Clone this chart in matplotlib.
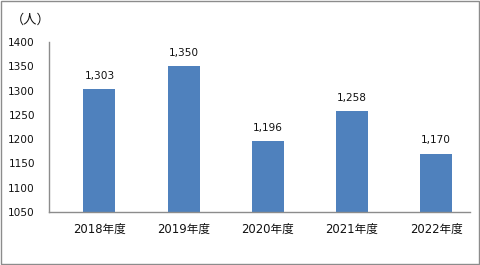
import matplotlib
matplotlib.use('Agg')
import matplotlib.pyplot as plt
from matplotlib.patches import Rectangle

plt.rcParams['font.family'] = ['DejaVu Sans', 'Noto Sans CJK JP']

# data
years = ['2018年度', '2019年度', '2020年度', '2021年度', '2022年度']
people = [1303, 1350, 1196, 1258, 1170]
y_ticks = [1050, 1100, 1150, 1200, 1250, 1300, 1350, 1400]

fig = plt.figure(figsize=(4.8, 2.65), dpi=100)
ax = fig.add_axes([0.102, 0.2, 0.877, 0.6415])

x = range(len(years))
ax.bar(x, people, width=0.38, color='#4F81BD', zorder=2)
for i, v in enumerate(people):
    ax.annotate('{:,}'.format(v), (i, v), xytext=(0, 6), textcoords='offset points',
                ha='center', va='bottom', fontsize=7.6, color='#111111')

ax.set_ylim(1050, 1400)
ax.set_xlim(-0.6, 4.4)
ax.set_yticks(y_ticks)
ax.set_xticks(list(x))
ax.set_xticklabels(years, family=['DejaVu Sans', 'Noto Sans CJK JP'], fontsize=8.4)
ax.tick_params(axis='y', length=0, labelsize=7.6, colors='#111111', pad=10)
ax.tick_params(axis='x', length=0, colors='#111111', pad=8)

for s in ['top', 'right']:
    ax.spines[s].set_visible(False)
for s in ['left', 'bottom']:
    ax.spines[s].set_color('#8c8c8c')
    ax.spines[s].set_linewidth(1.0)

fig.text(0.022, 0.925, '（人）', fontsize=9.5, family=['Noto Sans CJK JP', 'DejaVu Sans'],
         ha='left', va='center', color='#111111')

# outer border
fig.patches.append(Rectangle((0.002, 0.004), 0.995, 0.992, transform=fig.transFigure,
                             fill=False, edgecolor='#8c8c8c', linewidth=1.0))

fig.savefig('out.png', dpi=100)
